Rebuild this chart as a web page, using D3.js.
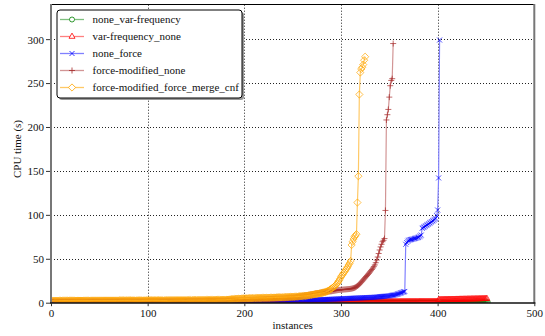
<!DOCTYPE html>
<html><head><meta charset="utf-8">
<script src="https://cdn.jsdelivr.net/npm/d3@7"></script>
<style>body{margin:0;background:#fff}svg{display:block}svg text{font-family:"Liberation Serif","DejaVu Serif",serif !important;}</style>
</head><body><svg id="c" width="545" height="336"></svg>
<script>
const seriesNames = ["none_var-frequency","var-frequency_none","none_force","force-modified_none","force-modified_force_merge_cnf"];
const xTicks = [0,100,200,300,400,500];
const yTicks = [0,50,100,150,200,250,300];
const xLabel = "instances";
const yLabel = "CPU time (s)";

// CPU time per instance (sorted)
const noneVarFrequency = [
0.1,0.1,0.1,0.1,0.1,0.1,0.1,0.1,0.1,0.1,0.1,0.1,0.1,0.1,0.1,0.1,0.1,0.1,0.1,0.1,
0.1,0.1,0.1,0.1,0.1,0.1,0.1,0.1,0.1,0.1,0.1,0.1,0.1,0.1,0.1,0.1,0.1,0.1,0.1,0.1,
0.1,0.1,0.1,0.1,0.1,0.1,0.1,0.1,0.1,0.1,0.1,0.1,0.1,0.1,0.1,0.1,0.1,0.1,0.1,0.1,
0.1,0.1,0.1,0.1,0.1,0.1,0.1,0.1,0.1,0.1,0.1,0.1,0.1,0.1,0.1,0.1,0.1,0.1,0.1,0.1,
0.1,0.1,0.1,0.1,0.1,0.1,0.1,0.1,0.1,0.1,0.1,0.1,0.1,0.1,0.1,0.1,0.1,0.1,0.1,0.1,
0.1,0.1,0.1,0.1,0.1,0.1,0.1,0.1,0.1,0.1,0.1,0.1,0.1,0.1,0.1,0.1,0.1,0.1,0.1,0.1,
0.1,0.1,0.1,0.1,0.1,0.1,0.1,0.1,0.1,0.1,0.1,0.1,0.1,0.1,0.1,0.1,0.1,0.1,0.1,0.1,
0.1,0.1,0.1,0.1,0.1,0.1,0.1,0.1,0.1,0.1,
0.15,0.15,0.15,0.15,0.15,0.15,0.15,0.15,0.15,0.15,0.15,0.15,0.15,0.15,0.15,0.15,0.15,0.15,0.15,0.15,
0.15,0.15,0.15,0.15,0.15,0.15,0.15,0.15,0.15,0.15,0.15,0.15,0.15,0.15,0.15,0.15,0.15,0.15,0.15,0.15,
0.15,0.15,0.15,0.15,0.15,0.15,0.15,0.15,0.15,0.15,0.15,0.15,0.15,0.15,0.15,0.15,0.15,0.15,0.15,0.15,
0.15,0.15,0.15,0.15,0.15,0.15,0.15,0.15,0.15,0.15,0.15,0.15,0.15,0.15,0.15,0.15,0.15,0.15,0.15,0.15,
0.15,0.15,0.15,0.15,0.15,0.15,0.15,0.15,0.15,0.15,0.15,0.15,0.15,0.15,0.15,0.15,0.15,0.15,0.15,0.15,
0.15,0.15,0.15,0.15,0.15,0.15,0.15,0.15,0.15,0.15,0.15,0.15,0.15,0.15,0.15,0.15,0.15,0.15,0.15,0.15,
0.15,0.15,0.15,0.15,0.15,0.15,0.15,0.15,0.15,0.15,0.15,0.15,0.15,0.15,0.15,0.15,0.15,0.15,0.15,0.15,
0.15,0.15,0.15,0.15,0.15,0.15,0.15,0.15,0.15,0.15,
0.2,0.2,0.2,0.2,0.2,0.2,0.2,0.2,0.2,0.2,0.2,0.2,0.2,0.2,0.2,0.2,0.2,0.2,0.2,0.2,
0.2,0.2,0.2,0.2,0.2,0.2,0.2,0.2,0.2,0.2,0.2,0.2,0.2,0.2,0.2,0.2,0.2,0.2,0.2,0.2,
0.2,0.2,0.2,0.2,0.2,0.2,0.2,0.2,0.2,0.2,0.2,0.2,0.2,0.2,0.2,0.2,0.2,0.2,0.2,0.2,
0.2,0.2,0.2,0.2,0.2,0.2,0.2,0.2,0.2,0.2,0.2,0.2,0.2,0.2,0.2,0.2,0.2,0.2,0.2,0.2,
0.2,0.2,0.2,0.2,0.2,0.2,0.2,0.2,0.2,0.2,0.2,0.2,0.2,0.2,0.2,0.2,0.2,0.2,0.2,0.2,
0.25,0.25,0.25,0.25,0.25,0.25,0.25,0.25,0.25,0.25,0.25,0.25,0.25,0.25,0.25,0.25,0.25,0.25,0.25,0.25,
0.25,0.25,0.25,0.25,0.25,0.25,0.25,0.25,0.25,0.25,0.25,0.25,0.25,0.25,0.25,0.25,0.25,0.25,0.25,0.25,
0.3,0.3,0.3,0.3,0.3,0.3,0.3,0.3,0.3,0.3,0.3,0.3
];
const varFrequencyNone = [
0.3,0.3,0.3,0.3,0.3,0.3,0.3,0.3,0.3,0.3,0.3,0.3,0.3,0.3,0.3,0.3,0.3,0.3,0.3,0.3,
0.3,0.3,0.3,0.3,0.3,0.3,0.3,0.3,0.3,0.3,0.3,0.3,0.3,0.3,0.3,0.3,0.3,0.3,0.3,0.3,
0.3,0.3,0.3,0.3,0.3,0.3,0.3,0.3,0.3,0.3,0.3,0.3,0.3,0.3,0.3,0.3,0.3,0.3,0.3,0.3,
0.3,0.3,0.3,0.3,0.3,0.3,0.3,0.3,0.3,0.3,0.3,0.3,0.3,0.3,0.3,0.3,0.3,0.3,0.3,0.3,
0.3,0.3,0.3,0.3,0.3,0.3,0.3,0.3,0.3,0.3,0.3,0.3,0.3,0.3,0.3,0.3,0.3,0.3,0.3,0.3,
0.4,0.4,0.4,0.4,0.4,0.4,0.4,0.4,0.4,0.4,0.4,0.4,0.4,0.4,0.4,0.4,0.4,0.4,0.4,0.4,
0.4,0.4,0.4,0.4,0.4,0.4,0.4,0.4,0.4,0.4,0.4,0.4,0.4,0.4,0.4,0.4,0.4,0.4,0.4,0.4,
0.4,0.4,0.4,0.4,0.4,0.4,0.4,0.4,0.4,0.4,
0.5,0.5,0.5,0.5,0.5,0.5,0.5,0.5,0.5,0.5,0.5,0.5,0.5,0.5,0.5,0.5,0.5,0.5,0.5,0.5,
0.5,0.5,0.5,0.5,0.5,0.5,0.5,0.5,0.5,0.5,0.5,0.5,0.5,0.5,0.5,0.5,0.5,0.5,0.5,0.5,
0.5,0.5,0.5,0.5,0.5,0.5,0.5,0.5,0.5,0.5,
0.6,0.6,0.6,0.6,0.6,0.6,0.6,0.6,0.6,0.6,0.6,0.6,0.6,0.6,0.6,0.6,0.6,0.6,0.6,0.6,
0.6,0.6,0.6,0.6,0.6,0.6,0.6,0.6,0.6,0.6,0.6,0.6,0.6,0.6,0.6,0.6,0.6,0.6,0.6,0.6,
0.7,0.7,0.7,0.7,0.7,0.7,0.7,0.7,0.7,0.7,0.7,0.7,0.7,0.7,0.7,0.7,0.7,0.7,0.7,0.7,
0.7,0.7,0.7,0.7,0.7,0.7,0.7,0.7,0.7,0.7,
0.8,0.8,0.8,0.8,0.8,0.8,0.8,0.8,0.8,0.8,0.8,0.8,0.8,0.8,0.8,0.8,0.8,0.8,0.8,0.8,
0.8,0.8,0.8,0.8,0.8,0.8,0.8,0.8,0.8,0.8,
0.9,0.9,0.9,0.9,0.9,0.9,0.9,0.9,0.9,0.9,0.9,0.9,0.9,0.9,0.9,0.9,0.9,0.9,0.9,0.9,
0.9,0.9,0.9,0.9,0.9,0.9,0.9,0.9,0.9,0.9,
1.0,1.0,1.0,1.0,1.0,1.0,1.0,1.0,1.0,1.0,1.0,1.0,1.0,1.0,1.0,1.0,1.0,1.0,1.0,1.0,
1.0,1.0,1.0,1.0,1.0,1.0,1.0,1.0,1.0,1.0,
1.1,1.1,1.1,1.1,1.1,1.1,1.1,1.1,1.1,1.1,1.1,1.1,1.1,1.1,1.1,1.1,1.1,1.1,1.1,1.1,
1.2,1.2,1.2,1.2,1.2,1.2,1.2,1.2,1.2,1.2,1.2,1.2,1.2,1.2,1.2,1.2,1.2,1.2,1.2,1.2,
3.2,3.3,3.3,3.4,3.4,3.4,3.5,3.5,3.5,3.5,3.6,3.6,3.6,3.6,3.7,3.7,3.7,3.7,3.8,3.8,
3.8,3.8,3.9,3.9,3.9,3.9,4.0,4.0,4.0,4.0,4.1,4.1,4.1,4.1,4.2,4.2,4.2,4.2,4.3,4.3,
4.3,4.3,4.4,4.4,4.4,4.5,4.5,4.5,4.6,4.6,4.7
];
const noneForce = [
0.8,0.8,0.8,0.8,0.8,0.8,0.8,0.8,0.8,0.8,0.8,0.8,0.8,0.8,0.8,0.8,0.8,0.8,0.8,0.8,
0.9,0.9,0.9,0.9,0.9,0.9,0.9,0.9,0.9,0.9,0.9,0.9,0.9,0.9,0.9,0.9,0.9,0.9,0.9,0.9,
1.0,1.0,1.0,1.0,1.0,1.0,1.0,1.0,1.0,1.0,1.0,1.0,1.0,1.0,1.0,1.0,1.0,1.0,1.0,1.0,
1.1,1.1,1.1,1.1,1.1,1.1,1.1,1.1,1.1,1.1,1.1,1.1,1.1,1.1,1.1,1.1,1.1,1.1,1.1,1.1,
1.2,1.2,1.2,1.2,1.2,1.2,1.2,1.2,1.2,1.2,1.2,1.2,1.2,1.2,1.2,1.2,1.2,1.2,1.2,1.2,
1.3,1.3,1.3,1.3,1.3,1.3,1.3,1.3,1.3,1.3,1.3,1.3,1.3,1.3,1.3,1.3,1.3,1.3,1.3,1.3,
1.4,1.4,1.4,1.4,1.4,1.4,1.4,1.4,1.4,1.4,1.4,1.4,1.4,1.4,1.4,1.4,1.4,1.4,1.4,1.4,
1.5,1.5,1.5,1.5,1.5,1.5,1.5,1.5,1.5,1.5,1.5,1.5,1.5,1.5,1.5,1.5,1.5,1.5,1.5,1.5,
1.6,1.6,1.6,1.6,1.6,1.6,1.6,1.6,1.6,1.6,1.6,1.6,1.6,1.6,1.6,1.6,1.6,1.6,1.6,1.6,
1.7,1.7,1.7,1.7,1.7,1.7,1.7,1.7,1.7,1.7,1.7,1.7,1.7,1.7,1.7,1.7,1.7,1.7,1.7,1.7,
1.8,1.8,1.8,1.8,1.8,1.8,1.8,1.8,1.8,1.8,1.9,1.9,1.9,1.9,1.9,1.9,1.9,1.9,1.9,1.9,
2.0,2.0,2.0,2.0,2.1,2.1,2.1,2.1,2.2,2.2,2.2,2.2,2.3,2.3,2.3,2.3,2.4,2.4,2.4,2.4,
2.5,2.5,2.5,2.5,2.6,2.6,2.6,2.6,2.7,2.7,2.7,2.7,2.8,2.8,2.8,2.8,2.9,2.9,2.9,2.9,
3.0,3.0,3.0,3.0,3.0,3.1,3.1,3.1,3.1,3.1,3.2,3.2,3.2,3.2,3.3,3.3,3.3,3.4,3.4,3.4,
3.5,3.5,3.6,3.6,3.7,3.7,3.8,3.8,3.9,3.9,4.0,4.0,4.1,4.1,4.2,4.2,4.3,4.3,4.4,4.4,
4.5,4.5,4.6,4.6,4.7,4.8,4.8,4.9,4.9,5.0,5.0,5.1,5.1,5.2,5.2,5.3,5.3,5.4,5.4,5.5,
5.5,5.6,5.6,5.7,5.7,5.8,5.8,5.9,5.9,6.0,6.0,6.1,6.1,6.2,6.3,6.3,6.4,6.5,6.6,6.8,
6.9,7.0,7.1,7.2,7.3,7.4,7.5,7.6,7.7,7.8,8.0,8.2,8.4,8.6,8.8,9.0,9.3,9.6,10.0,10.4,
10.8,11.2,11.6,12.0,12.4,12.8,
66.5,68.5,70.0,71.0,71.5,71.8,72.0,72.3,72.6,73.0,73.3,73.6,74.0,74.4,75.0,76.0,77.0,84.7,85.5,86.2,
87.0,87.8,88.5,89.2,90.0,90.8,91.6,92.4,93.2,94.0,95.0,96.0,99.0,105.5,142.0,299.0
];
const forceModifiedNone = [
1.5,1.5,1.5,1.5,1.5,1.5,1.5,1.5,1.5,1.5,1.5,1.5,1.5,1.5,1.5,1.5,1.5,1.5,1.5,1.5,
1.6,1.6,1.6,1.6,1.6,1.6,1.6,1.6,1.6,1.6,1.6,1.6,1.6,1.6,1.6,1.6,1.6,1.6,1.6,1.6,
1.7,1.7,1.7,1.7,1.7,1.7,1.7,1.7,1.7,1.7,1.7,1.7,1.7,1.7,1.7,1.7,1.7,1.7,1.7,1.7,
1.8,1.8,1.8,1.8,1.8,1.8,1.8,1.8,1.8,1.8,1.8,1.8,1.8,1.8,1.8,1.8,1.8,1.8,1.8,1.8,
1.9,1.9,1.9,1.9,1.9,1.9,1.9,1.9,1.9,1.9,1.9,1.9,1.9,1.9,1.9,1.9,1.9,1.9,1.9,1.9,
2.0,2.0,2.0,2.0,2.0,2.0,2.0,2.0,2.0,2.0,2.0,2.0,2.0,2.0,2.0,2.0,2.0,2.0,2.0,2.0,
2.1,2.1,2.1,2.1,2.1,2.1,2.1,2.1,2.1,2.1,2.1,2.1,2.1,2.1,2.1,2.1,2.1,2.1,2.1,2.1,
2.2,2.2,2.2,2.2,2.2,2.2,2.2,2.2,2.2,2.2,2.2,2.2,2.2,2.2,2.2,2.2,2.2,2.2,2.2,2.2,
2.4,2.4,2.4,2.4,2.4,2.4,2.4,2.4,2.4,2.4,2.4,2.4,2.4,2.4,2.4,2.4,2.4,2.4,2.4,2.4,
2.6,2.6,2.6,2.6,2.6,2.6,2.6,2.6,2.6,2.6,2.6,2.6,2.6,2.6,2.6,2.6,2.6,2.6,2.6,2.6,
2.8,2.9,3.0,3.0,3.1,3.1,3.2,3.2,3.3,3.3,3.4,3.4,3.5,3.5,3.6,3.6,3.7,3.7,3.8,3.8,
3.9,3.9,4.0,4.0,4.1,4.1,4.2,4.2,4.3,4.3,4.4,4.4,4.5,4.5,4.6,4.6,4.7,4.7,4.8,4.8,
4.9,5.0,5.1,5.2,5.3,5.4,5.5,5.6,5.7,5.8,5.9,6.0,6.2,6.4,6.6,6.8,7.0,7.2,7.4,7.6,
7.8,8.0,8.2,8.4,8.6,8.8,9.0,9.2,9.4,9.6,9.8,10.0,10.2,10.4,10.6,10.8,11.0,11.2,11.4,11.6,
11.8,12.0,12.2,12.4,12.5,12.6,12.7,12.8,12.9,13.0,13.2,13.4,13.6,13.8,14.0,14.2,14.4,14.5,14.6,14.7,
14.8,14.9,15.0,15.1,15.2,15.3,15.4,15.5,15.6,15.8,16.0,16.3,16.6,17.0,17.5,18.2,19.0,19.9,21.0,22.2,
23.4,24.6,25.9,27.2,28.5,29.8,31.0,32.3,33.6,35.0,36.4,37.9,39.4,41.0,43.0,45.5,48.5,52.0,56.0,60.0,
63.5,66.5,69.4,71.0,73.0,105.0,208.0,214.0,220.0,234.0,247.0,253.0,255.0,295.0
];
const forceModifiedForceMergeCnf = [
2.1,2.1,2.1,2.2,2.2,2.2,2.2,2.2,2.3,2.3,2.3,2.3,2.3,2.3,2.3,2.3,2.4,2.4,2.4,2.4,
2.4,2.4,2.4,2.4,2.4,2.4,2.4,2.4,2.4,2.4,2.4,2.4,2.4,2.4,2.4,2.4,2.4,2.4,2.4,2.4,
2.5,2.5,2.5,2.5,2.5,2.5,2.5,2.5,2.5,2.5,2.5,2.5,2.5,2.5,2.5,2.5,2.5,2.5,2.5,2.5,
2.5,2.5,2.5,2.5,2.5,2.5,2.5,2.5,2.5,2.5,2.6,2.6,2.6,2.6,2.6,2.6,2.6,2.6,2.6,2.6,
2.6,2.6,2.6,2.6,2.6,2.6,2.6,2.6,2.6,2.6,2.6,2.6,2.6,2.6,2.6,2.6,2.6,2.6,2.6,2.6,
2.7,2.7,2.7,2.7,2.7,2.7,2.7,2.7,2.7,2.7,2.7,2.7,2.7,2.7,2.7,2.7,2.7,2.7,2.7,2.7,
2.8,2.8,2.8,2.8,2.8,2.8,2.8,2.8,2.8,2.8,2.8,2.8,2.8,2.8,2.8,2.8,2.8,2.8,2.8,2.8,
2.9,2.9,2.9,2.9,2.9,2.9,2.9,2.9,2.9,2.9,3.0,3.0,3.0,3.0,3.0,3.0,3.0,3.0,3.0,3.0,
3.1,3.1,3.1,3.1,3.1,3.1,3.1,3.1,3.1,3.1,3.2,3.2,3.2,3.2,3.2,3.2,3.2,3.2,3.2,3.2,
3.3,3.4,3.5,3.6,3.7,3.8,3.9,4.0,4.1,4.2,4.3,4.4,4.5,4.5,4.6,4.6,4.7,4.7,4.8,4.8,
4.9,4.9,5.0,5.0,5.0,5.1,5.1,5.1,5.2,5.2,5.2,5.3,5.3,5.3,5.4,5.4,5.4,5.5,5.5,5.5,
5.6,5.6,5.6,5.7,5.7,5.7,5.8,5.8,5.8,5.9,5.9,5.9,6.0,6.0,6.0,6.1,6.1,6.1,6.2,6.2,
6.3,6.3,6.4,6.4,6.5,6.5,6.6,6.6,6.7,6.7,6.8,6.8,6.9,6.9,7.0,7.1,7.2,7.3,7.4,7.5,
7.6,7.7,7.8,7.9,8.0,8.2,8.4,8.6,8.8,9.0,9.2,9.4,9.6,9.8,10.0,10.2,10.4,10.6,10.8,11.0,
11.3,11.6,11.9,12.2,12.5,13.1,13.7,14.4,15.1,15.9,16.7,17.5,18.3,19.4,20.7,22.0,23.5,25.2,27.2,29.4,
31.0,32.6,34.2,35.8,37.5,39.2,41.0,43.0,45.0,47.5,65.7,69.4,72.5,75.0,76.5,78.0,114.0,144.0,237.0,262.0,
266.0,268.0,271.0,276.0,280.0
];

const seriesValues = [noneVarFrequency, varFrequencyNone, noneForce, forceModifiedNone, forceModifiedForceMergeCnf];
const seriesStyle = [
  {color:"#008000", line:"#7fbf7f", marker:"circle"},
  {color:"#ff0000", line:"#ff8080", marker:"triangle"},
  {color:"#0000ff", line:"#8080ff", marker:"x"},
  {color:"#a52a2a", line:"#d29595", marker:"plus"},
  {color:"#ffa500", line:"#ffc966", marker:"diamond"}
];

const W = 545, H = 336;
const x = d3.scaleLinear().domain([0,500]).range([51,534.3]);
const y = d3.scaleLinear().domain([0,340]).range([302.7,4]);
const svg = d3.select("#c");
const FONT = "Liberation Serif";
const FS = "11px";

const markerPath = {
  circle: "M2.5,0A2.5,2.5 0 1,1 -2.5,0A2.5,2.5 0 1,1 2.5,0Z",
  triangle: "M0,-3.4L3,1.8L-3,1.8Z",
  x: "M-2.5,-2.5L2.5,2.5M-2.5,2.5L2.5,-2.5",
  plus: "M-3,0H3M0,-3V3",
  diamond: "M0,-3.6L3.6,0L0,3.6L-3.6,0Z"
};

svg.append("rect").attr("width",W).attr("height",H).attr("fill","#fff");

// grid
const g = svg.append("g");
g.selectAll("line.gx").data(xTicks.slice(1,-1)).join("line")
  .attr("x1",d=>Math.round(x(d))+0.5).attr("x2",d=>Math.round(x(d))+0.5)
  .attr("y1",y(0)).attr("y2",y(340))
  .attr("stroke","#222").attr("stroke-width",1).attr("stroke-dasharray","1,2");
g.selectAll("line.gy").data(yTicks.slice(1)).join("line")
  .attr("y1",d=>Math.round(y(d))+0.5).attr("y2",d=>Math.round(y(d))+0.5)
  .attr("x1",x(0)).attr("x2",x(500))
  .attr("stroke","#222").attr("stroke-width",1).attr("stroke-dasharray","1,2");

// clip
svg.append("clipPath").attr("id","clip").append("rect")
  .attr("x",x(0)).attr("y",y(340)).attr("width",x(500)-x(0)).attr("height",y(0)-y(340));

const plot = svg.append("g").attr("clip-path","url(#clip)");
const line = d3.line().x((d,i)=>x(i+1)).y(d=>y(d));
seriesValues.forEach((vals, k) => {
  const st = seriesStyle[k];
  const sg = plot.append("g");
  sg.append("path").attr("d", line(vals)).attr("fill","none")
    .attr("stroke", st.line).attr("stroke-width",1.2);
  sg.selectAll("path.m").data(vals).join("path").attr("class","m")
    .attr("transform",(d,i)=>`translate(${x(i+1)},${y(d)})`)
    .attr("d", markerPath[st.marker])
    .attr("fill","none").attr("stroke", st.color).attr("stroke-width",1).attr("stroke-opacity",0.7);
});

// spines
svg.append("line").attr("x1",x(0)).attr("x2",x(500)).attr("y1",4.5).attr("y2",4.5).attr("stroke","#000").attr("stroke-width",1);
svg.append("line").attr("x1",x(0)).attr("x2",x(0)).attr("y1",4).attr("y2",303.5).attr("stroke","#777").attr("stroke-width",2);
svg.append("line").attr("x1",x(500)).attr("x2",x(500)).attr("y1",4).attr("y2",303.5).attr("stroke","#777").attr("stroke-width",2);
svg.append("line").attr("x1",x(0)-1).attr("x2",x(500)+1).attr("y1",303).attr("y2",303).attr("stroke","#111").attr("stroke-width",1.3);

// axes
const ax = svg.append("g").attr("transform",`translate(0,${y(0)})`)
  .call(d3.axisBottom(x).tickValues(xTicks).tickSize(3.5).tickPadding(3).tickFormat(d3.format("d")));
const ay = svg.append("g").attr("transform",`translate(${x(0)-1},0)`)
  .call(d3.axisLeft(y).tickValues(yTicks).tickSize(4).tickPadding(2).tickFormat(d3.format("d")));
[ax, ay].forEach(a => {
  a.attr("font-family",null);
  a.select(".domain").remove();
  a.selectAll("line").attr("stroke","#333");
  a.selectAll("text").style("font-family",FONT).style("font-size",FS).attr("fill","#111");
});
ay.selectAll("text").attr("dy","0.35em");

svg.append("text").attr("x",(x(0)+x(500))/2).attr("y",329).attr("text-anchor","middle")
  .style("font-family",FONT).style("font-size",FS).attr("fill","#111").text(xLabel);
svg.append("text").attr("transform","translate(20.5,149) rotate(-90)").attr("text-anchor","middle")
  .style("font-family",FONT).style("font-size",FS).attr("fill","#111").text(yLabel);

// legend
const lg = svg.append("g");
lg.append("rect").attr("x",59).attr("y",12).attr("width",185).attr("height",88).attr("rx",3)
  .attr("fill","#999");
lg.append("rect").attr("x",57).attr("y",10).attr("width",185).attr("height",88).attr("rx",3)
  .attr("fill","#fff").attr("stroke","#000").attr("stroke-width",1);
seriesNames.forEach((name,k) => {
  const st = seriesStyle[k];
  const yy = 19.5 + k*17;
  lg.append("line").attr("x1",60).attr("x2",84).attr("y1",yy).attr("y2",yy).attr("stroke",st.line).attr("stroke-width",1.3);
  lg.append("path").attr("transform",`translate(72,${yy})`).attr("d",markerPath[st.marker])
    .attr("fill","#fff").attr("stroke",st.color).attr("stroke-width",1).attr("stroke-opacity",0.8);
  lg.append("text").attr("x",92.5).attr("y",yy).attr("dy","0.35em")
    .style("font-family",FONT).style("font-size",FS).attr("fill","#111").text(name);
});
</script>
</body></html>
